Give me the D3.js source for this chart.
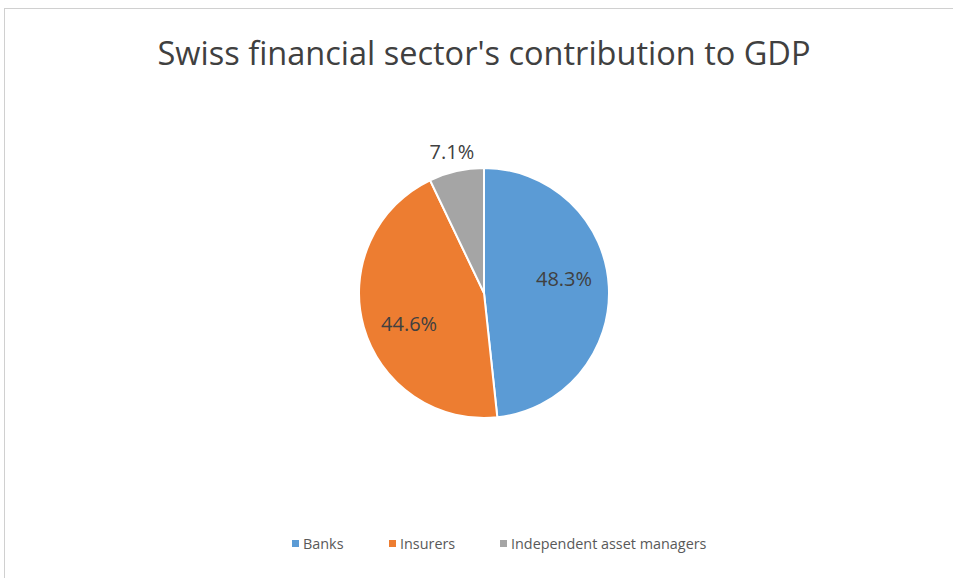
<!DOCTYPE html>
<html>
<head>
<meta charset="utf-8">
<script src="https://cdn.jsdelivr.net/npm/d3@7"></script>
<style>
  body { margin: 0; background: #fff; }
  text { font-family: "Open Sans", "Noto Sans", sans-serif; }
</style>
</head>
<body>
<div id="chart"></div>
<script>
// data
var categories = ['Banks', 'Insurers', 'Independent asset managers'];
var values = [48.3, 44.6, 7.1];
var colors = ['#5b9bd5', '#ed7d31', '#a5a5a5'];

var width = 953, height = 578;
var cx = 484, cy = 293, radius = 125;

var svg = d3.select('#chart')
  .append('svg')
    .attr('width', width)
    .attr('height', height);

// chart frame
svg.append('rect')
  .attr('x', 4.5).attr('y', 8.5)
  .attr('width', width + 10).attr('height', height + 10)
  .attr('fill', '#fff')
  .attr('stroke', '#d0d0d0');

// title
svg.append('text')
  .attr('x', 484).attr('y', 65)
  .attr('text-anchor', 'middle')
  .attr('font-size', 32.5)
  .attr('fill', '#404040')
  .text("Swiss financial sector's contribution to GDP");

var pie = d3.pie().sort(null).value(function(d) { return d; });
var arcs = pie(values);

var arc = d3.arc().innerRadius(0).outerRadius(radius);

// label anchor, nudged a bit counter-clockwise like the original
function labelPos(d) {
  var small = (d.endAngle - d.startAngle) < 0.6;
  var a = (d.startAngle + d.endAngle) / 2 - (small ? 0 : 0.12);
  var r = small ? radius + 20 : radius * 0.65;
  return [Math.sin(a) * r, -Math.cos(a) * r];
}

var g = svg.append('g')
  .attr('transform', 'translate(' + cx + ',' + cy + ')');

g.selectAll('path.slice')
  .data(arcs)
  .enter().append('path')
    .attr('class', 'slice')
    .attr('d', arc)
    .attr('fill', function(d, i) { return colors[i]; })
    .attr('stroke', '#fff')
    .attr('stroke-width', 2);

g.selectAll('text.lbl')
  .data(arcs)
  .enter().append('text')
    .attr('class', 'lbl')
    .attr('transform', function(d) { return 'translate(' + labelPos(d) + ')'; })
    .attr('dy', '0.35em')
    .attr('text-anchor', 'middle')
    .attr('font-size', 20)
    .attr('fill', '#404040')
    .text(function(d) { return d.value.toFixed(1) + '%'; });

// legend
var legendX = [292, 389, 500];
var items = svg.append('g').selectAll('g')
  .data(categories)
  .enter().append('g')
    .attr('transform', function(d, i) { return 'translate(' + legendX[i] + ',544)'; });

items.append('rect')
  .attr('x', 0).attr('y', -4)
  .attr('width', 7).attr('height', 7)
  .attr('fill', function(d, i) { return colors[i]; });

items.append('text')
  .attr('x', 11).attr('y', 0)
  .attr('dy', '0.35em')
  .attr('font-size', 14.4)
  .attr('fill', '#595959')
  .text(function(d) { return d; });
</script>
</body>
</html>
